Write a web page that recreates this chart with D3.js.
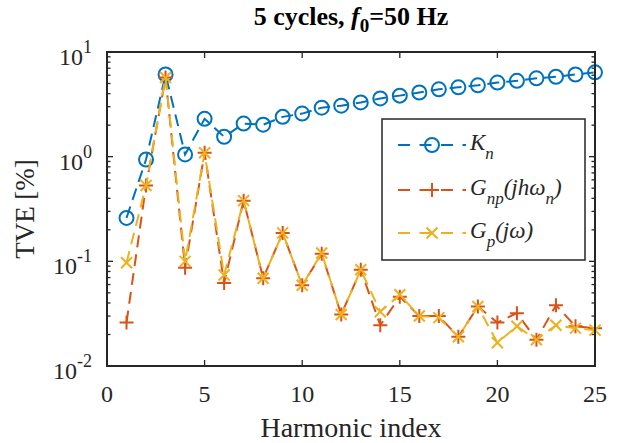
<!DOCTYPE html>
<html>
<head>
<meta charset="utf-8">
<script src="https://cdn.jsdelivr.net/npm/d3@7"></script>
<style>
  body { margin: 0; background: #fff; }
</style>
</head>
<body>
<div id="chart"></div>
<script>
// data
const harmonics = d3.range(1, 26);
const kn  = [0.26, 0.94, 6.1, 1.05, 2.3, 1.55, 2.07, 2.02, 2.4, 2.58, 2.94, 3.07, 3.3, 3.6, 3.83, 4.1, 4.4, 4.6, 4.8, 5.1, 5.3, 5.6, 5.8, 6.1, 6.4];
const gnp = [0.026, 0.53, 5.7, 0.087, 1.09, 0.062, 0.38, 0.069, 0.187, 0.059, 0.118, 0.031, 0.083, 0.0245, 0.046, 0.030, 0.030, 0.019, 0.037, 0.026, 0.032, 0.0178, 0.038, 0.024, 0.023];
const gp  = [0.097, 0.53, 5.7, 0.10, 1.09, 0.074, 0.38, 0.069, 0.187, 0.059, 0.12, 0.031, 0.083, 0.033, 0.048, 0.030, 0.029, 0.019, 0.037, 0.0167, 0.024, 0.0178, 0.0245, 0.023, 0.022];
const xTicks = [0, 5, 10, 15, 20, 25];
const yTicks = [0.01, 0.1, 1, 10];
const yExp = [-2, -1, 0, 1];

const W = 618, H = 443;
const m = { top: 52, right: 23, bottom: 77, left: 107 };
const iw = W - m.left - m.right, ih = H - m.top - m.bottom;
const axisCol = "#262626";
const serif = "'Liberation Serif', 'Times New Roman', Times, 'DejaVu Serif', serif";

const svg = d3.select("#chart").append("svg")
  .attr("width", W).attr("height", H)
  .attr("font-family", serif)
  .style("font-family", serif);

const x = d3.scaleLinear().domain([0, 25]).range([m.left, m.left + iw]);
const y = d3.scaleLog().domain([0.01, 10]).range([m.top + ih, m.top]);

// Ticks (inside, on all four sides like MATLAB box)
const g = svg.append("g").attr("stroke", axisCol).attr("stroke-width", 1.3);
xTicks.forEach(t => {
  g.append("line").attr("x1", x(t)).attr("x2", x(t)).attr("y1", y(0.01)).attr("y2", y(0.01) - 6);
  g.append("line").attr("x1", x(t)).attr("x2", x(t)).attr("y1", y(10)).attr("y2", y(10) + 6);
});
const minor = [];
[0.01, 0.1, 1].forEach(d => { for (let k = 2; k <= 9; k++) minor.push(d * k); });
yTicks.forEach(t => {
  g.append("line").attr("x1", x(0)).attr("x2", x(0) + 6).attr("y1", y(t)).attr("y2", y(t));
  g.append("line").attr("x1", x(25)).attr("x2", x(25) - 6).attr("y1", y(t)).attr("y2", y(t));
});
minor.forEach(t => {
  g.append("line").attr("x1", x(0)).attr("x2", x(0) + 3.5).attr("y1", y(t)).attr("y2", y(t));
  g.append("line").attr("x1", x(25)).attr("x2", x(25) - 3.5).attr("y1", y(t)).attr("y2", y(t));
});

// Series
const series = [
  { vals: kn,  color: "#0072BD", marker: "o" },
  { vals: gnp, color: "#D95319", marker: "+" },
  { vals: gp,  color: "#EDB120", marker: "x" }
];
const line = d3.line().x((d, i) => x(harmonics[i])).y(d => y(d));

function drawMarker(sel, type, cx, cy, color) {
  if (type === "o") {
    sel.append("circle").attr("cx", cx).attr("cy", cy).attr("r", 7)
      .attr("fill", "none").attr("stroke", color).attr("stroke-width", 2);
  } else if (type === "+") {
    sel.append("path").attr("d", `M${cx - 7},${cy}H${cx + 7}M${cx},${cy - 7}V${cy + 7}`)
      .attr("stroke", color).attr("stroke-width", 2);
  } else {
    sel.append("path").attr("d", `M${cx - 5.5},${cy - 5.5}L${cx + 5.5},${cy + 5.5}M${cx - 5.5},${cy + 5.5}L${cx + 5.5},${cy - 5.5}`)
      .attr("stroke", color).attr("stroke-width", 2);
  }
}

series.forEach(s => {
  svg.append("path").datum(s.vals).attr("d", line)
    .attr("fill", "none").attr("stroke", s.color).attr("stroke-width", 2)
    .attr("stroke-dasharray", "12,7");
  const mg = svg.append("g");
  s.vals.forEach((v, i) => drawMarker(mg, s.marker, x(harmonics[i]), y(v), s.color));
});

// Box
svg.append("rect").attr("x", x(0)).attr("y", y(10)).attr("width", x(25) - x(0)).attr("height", y(0.01) - y(10))
  .attr("fill", "none").attr("stroke", axisCol).attr("stroke-width", 2);

// Tick labels
svg.append("g").selectAll("text").data(xTicks).join("text")
  .attr("x", d => x(d)).attr("y", 402)
  .attr("text-anchor", "middle").attr("font-size", 24).attr("fill", axisCol)
  .text(d => d);
yTicks.forEach((t, i) => {
  const tx = svg.append("text").attr("x", x(0) - 15).attr("y", y(t) + 13)
    .attr("text-anchor", "end").attr("font-size", 24).attr("fill", axisCol);
  tx.append("tspan").text("10");
  tx.append("tspan").attr("dy", -12).attr("font-size", 18).text(yExp[i]);
});

// Axis titles
svg.append("text").attr("x", x(12.5)).attr("y", 437).attr("text-anchor", "middle")
  .attr("font-size", 28).attr("fill", axisCol).text("Harmonic index");
svg.append("text").attr("transform", `translate(34,${y(Math.sqrt(0.1))}) rotate(-90)`)
  .attr("text-anchor", "middle").attr("font-size", 27).attr("fill", axisCol).text("TVE [%]");

// Title
const title = svg.append("text").attr("x", x(12.5)).attr("y", 25).attr("text-anchor", "middle")
  .attr("font-size", 26).attr("font-weight", "bold").attr("fill", "#000");
title.append("tspan").text("5 cycles, ");
title.append("tspan").attr("font-style", "italic").text("f");
title.append("tspan").attr("dy", 7).attr("font-size", 19).text("0");
title.append("tspan").attr("dy", -7).text("=50 Hz");

// Legend
const lg = svg.append("g");
lg.append("rect").attr("x", 382).attr("y", 119).attr("width", 203).attr("height", 141)
  .attr("fill", "#fff").attr("stroke", axisCol).attr("stroke-width", 1.5);
const legendRows = [
  { y: 145, parts: [["K", 0], ["n", 1]] },
  { y: 190, parts: [["G", 0], ["np", 1], ["(jhω", 0], ["n", 1], [")", 0]] },
  { y: 233, parts: [["G", 0], ["p", 1], ["(jω)", 0]] }
];
legendRows.forEach((r, i) => {
  const s = series[i];
  lg.append("line").attr("x1", 398).attr("x2", 466).attr("y1", r.y).attr("y2", r.y)
    .attr("stroke", s.color).attr("stroke-width", 2).attr("stroke-dasharray", "12,9.5");
  drawMarker(lg, s.marker, 432, r.y, s.color);
  const t = lg.append("text").attr("x", 470).attr("y", r.y + 5)
    .attr("font-size", 23).attr("font-style", "italic").attr("fill", axisCol);
  let sub = 0;
  r.parts.forEach(p => {
    const ts = t.append("tspan").text(p[0]);
    if (p[1] && !sub) { ts.attr("dy", 9).attr("font-size", 17); sub = 1; }
    else if (!p[1] && sub) { ts.attr("dy", -9); sub = 0; }
    else if (p[1]) ts.attr("font-size", 17);
  });
});
</script>
</body>
</html>
